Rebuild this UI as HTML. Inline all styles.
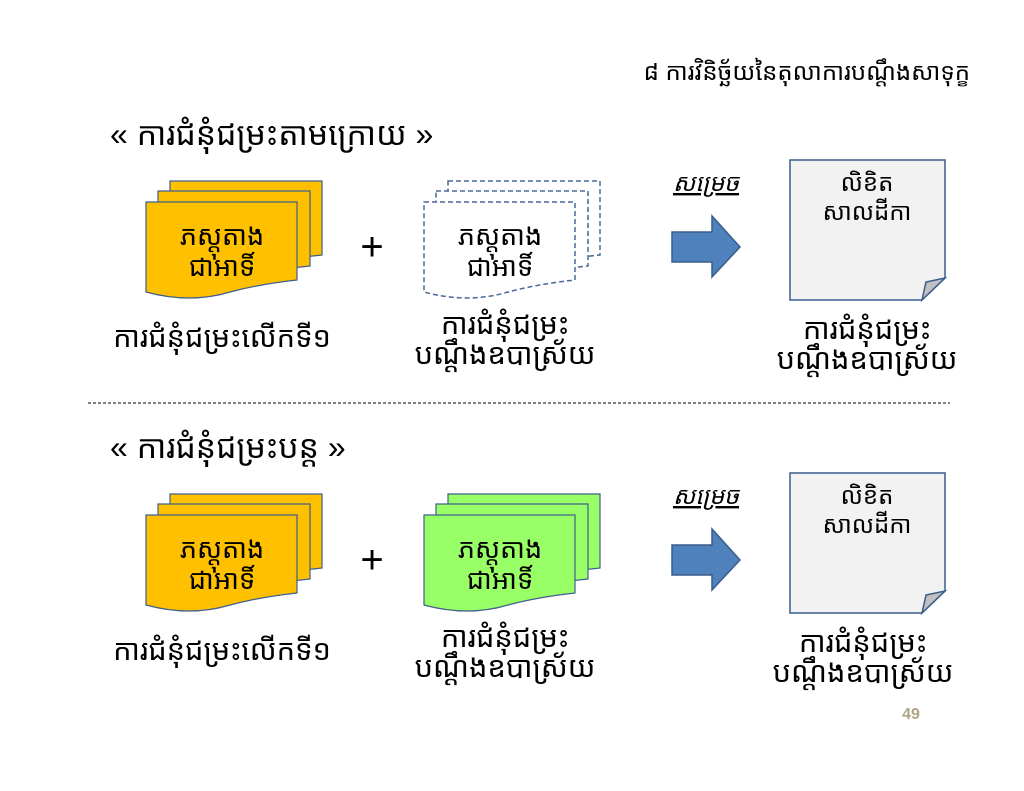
<!DOCTYPE html>
<html><head><meta charset="utf-8"><style>
html,body{margin:0;padding:0;background:#fff;width:1024px;height:791px;overflow:hidden}
svg{display:block}
text{font-family:"Liberation Sans","Khmer OS","Noto Sans Khmer",sans-serif;fill:#000}
</style></head><body>
<svg width="1024" height="791" viewBox="0 0 1024 791" xmlns="http://www.w3.org/2000/svg">
<defs>
<g id="stk">
<path d="M170 181H322V255Q300 257 280 262Q230 275 170 262Z"/>
<path d="M158 191H310V266Q288 268 268 273Q218 286 158 273Z"/>
<path d="M146 202H297V280Q260 284 230 292Q190 304 146 292Z"/>
</g>
<g id="doc">
<path d="M790 160H945V278L922 300H790Z" fill="#f2f2f2" stroke="#385d8a" stroke-width="1.5"/>
<path d="M922 300L926 282L945 278Z" fill="#c0c0c0" stroke="#385d8a" stroke-width="1.5"/>
</g>
<g id="arr"><path d="M672 232H712V216L740 247L712 277V262H672Z" fill="#4f81bd" stroke="#385d8a" stroke-width="1.5"/></g>
</defs>
<text x="970" y="80" font-size="24" text-anchor="end">៨  ការវិនិច្ឆ័យនៃតុលាការបណ្តឹងសាទុក្ខ</text>

<text x="110" y="145" font-size="32">« ការជំនុំជម្រះតាមក្រោយ »</text>
<g fill="#ffc000" stroke="#3e5f8c" stroke-width="1.2"><use href="#stk"/></g>
<text x="222" y="245" font-size="27" text-anchor="middle">ភស្តុតាង</text>
<text x="222" y="276" font-size="27" text-anchor="middle">ជាអាទិ៍</text>
<text x="222" y="347" font-size="29" text-anchor="middle">ការជំនុំជម្រះលើកទី១</text>
<text x="372" y="260" font-size="40" text-anchor="middle">+</text>
<g fill="#fff" stroke="#4a6a98" stroke-width="1.5" stroke-dasharray="5,3" transform="translate(278,0)"><use href="#stk"/></g>
<text x="500" y="245" font-size="27" text-anchor="middle">ភស្តុតាង</text>
<text x="500" y="276" font-size="27" text-anchor="middle">ជាអាទិ៍</text>
<text x="505" y="334" font-size="29" text-anchor="middle">ការជំនុំជម្រះ</text>
<text x="505" y="364" font-size="29" text-anchor="middle">បណ្តឹងឧបាស្រ័យ</text>
<text x="706" y="191" font-size="24" text-anchor="middle" font-style="italic" text-decoration="underline">សម្រេច</text>
<use href="#arr"/>
<use href="#doc"/>
<text x="867" y="191" font-size="24" text-anchor="middle">លិខិត</text>
<text x="867" y="220" font-size="24" text-anchor="middle">សាលដីកា</text>
<text x="867" y="339" font-size="29" text-anchor="middle">ការជំនុំជម្រះ</text>
<text x="867" y="369" font-size="29" text-anchor="middle">បណ្តឹងឧបាស្រ័យ</text>

<line x1="88" y1="403" x2="950" y2="403" stroke="#000" stroke-width="1" stroke-dasharray="3,2"/>

<text x="110" y="458" font-size="32">« ការជំនុំជម្រះបន្ត »</text>
<g transform="translate(0,313)">
<g fill="#ffc000" stroke="#3e5f8c" stroke-width="1.2"><use href="#stk"/></g>
<text x="222" y="245" font-size="27" text-anchor="middle">ភស្តុតាង</text>
<text x="222" y="276" font-size="27" text-anchor="middle">ជាអាទិ៍</text>
<text x="222" y="347" font-size="29" text-anchor="middle">ការជំនុំជម្រះលើកទី១</text>
<text x="372" y="260" font-size="40" text-anchor="middle">+</text>
<g fill="#99ff66" stroke="#3e5f8c" stroke-width="1.2" transform="translate(278,0)"><use href="#stk"/></g>
<text x="500" y="245" font-size="27" text-anchor="middle">ភស្តុតាង</text>
<text x="500" y="276" font-size="27" text-anchor="middle">ជាអាទិ៍</text>
<text x="505" y="334" font-size="29" text-anchor="middle">ការជំនុំជម្រះ</text>
<text x="505" y="364" font-size="29" text-anchor="middle">បណ្តឹងឧបាស្រ័យ</text>
<text x="706" y="191" font-size="24" text-anchor="middle" font-style="italic" text-decoration="underline">សម្រេច</text>
<use href="#arr"/>
<use href="#doc"/>
<text x="867" y="191" font-size="24" text-anchor="middle">លិខិត</text>
<text x="867" y="220" font-size="24" text-anchor="middle">សាលដីកា</text>
<text x="863" y="339" font-size="29" text-anchor="middle">ការជំនុំជម្រះ</text>
<text x="863" y="369" font-size="29" text-anchor="middle">បណ្តឹងឧបាស្រ័យ</text>
</g>
<text x="911" y="719" font-size="16" font-weight="bold" text-anchor="middle" style="fill:#b0a582">49</text>
</svg>
</body></html>
